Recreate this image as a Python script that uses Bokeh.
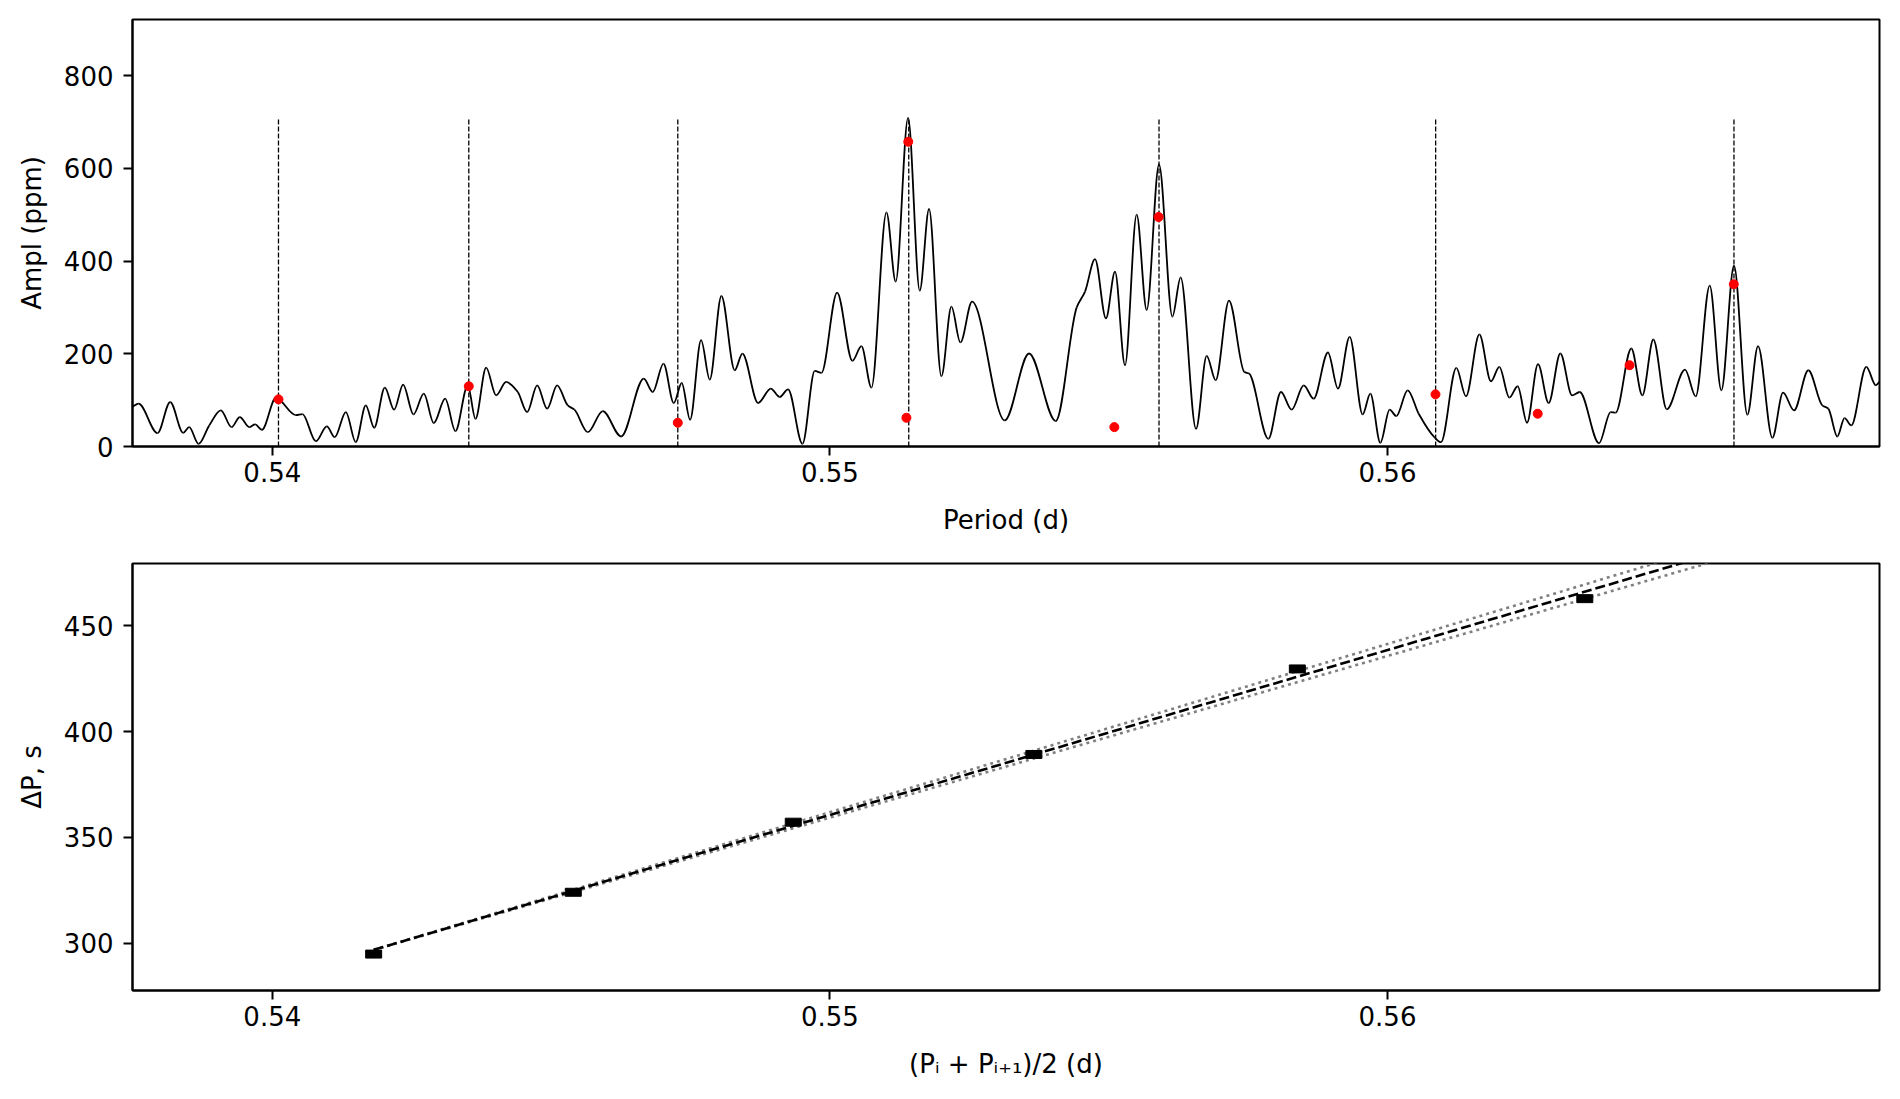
import numpy as np
from bokeh.plotting import figure
from bokeh.layouts import column
from bokeh.models import Range1d, FixedTicker
from bokeh.embed import file_html
from bokeh.resources import INLINE

# ---------------- data: amplitude spectrum (top panel) ----------------
period = [0.537493, 0.537601, 0.537942, 0.538169, 0.538402, 0.538510, 0.538677, 0.538869, 0.539077, 0.539269,
          0.539418, 0.539586, 0.539693, 0.539813, 0.540064, 0.540422, 0.540541, 0.540781, 0.540978, 0.541121,
          0.541319, 0.541497, 0.541677, 0.541827, 0.542018, 0.542185, 0.542346, 0.542532, 0.542717,
          0.542896, 0.543100, 0.543284, 0.543506, 0.543644, 0.543835, 0.544014, 0.544194, 0.544402, 0.544570,
          0.544750, 0.544929, 0.545108, 0.545299, 0.545419, 0.545658, 0.545926, 0.546256, 0.546662, 0.546823,
          0.547015, 0.547200, 0.547343, 0.547493, 0.547690, 0.547845,
          0.548054, 0.548293, 0.548431, 0.548712, 0.548940, 0.549100, 0.549250, 0.549508, 0.549728, 0.549848,
          0.550129, 0.550404, 0.550565, 0.550745, 0.551014, 0.551180, 0.551402, 0.551611, 0.551778, 0.551999,
          0.552179, 0.552340, 0.552549, 0.553135,
          0.553571, 0.554050, 0.554426, 0.554575, 0.554754, 0.554951, 0.555113, 0.555292, 0.555501, 0.555681,
          0.555902, 0.556142, 0.556290, 0.556566, 0.556757, 0.556918, 0.557157, 0.557432, 0.557517, 0.557863,
          0.558089, 0.558281,
          0.558497, 0.558675, 0.558932, 0.559112, 0.559321, 0.559554, 0.559692, 0.559871, 0.560038, 0.560158,
          0.560361, 0.560559, 0.560840, 0.560959, 0.561234, 0.561407, 0.561647, 0.561855, 0.562005, 0.562185,
          0.562334, 0.562502, 0.562699, 0.562890, 0.563099, 0.563309, 0.563447,
          0.563792, 0.564002, 0.564091, 0.564372, 0.564570, 0.564767, 0.565007, 0.565335, 0.565527, 0.565778,
          0.565987, 0.566214, 0.566453, 0.566645, 0.566902, 0.567093, 0.567290, 0.567547, 0.567797, 0.567906,
          0.568066, 0.568196, 0.568317, 0.568586, 0.568758, 0.568830]
ampl = [86, 92.3, 28.9, 95.9, 29.6, 41.8, 5.8, 45.4, 77.9, 41.8,
        63.5, 41.8, 47.6, 36.1, 104.6, 67.8, 70, 11.5, 43.3, 20.2,
        74.3, 9.4, 88.7, 40.4, 127, 79.4, 133.5, 69.3, 114,
        50.5, 103.2, 33.2, 132, 59.9, 170.2, 110.4, 139.2, 117.6, 74.3,
        132, 81.5, 132, 88.7, 79.4, 31, 76.5, 21.6, 146.4, 117.6,
        178.9, 93.8, 137, 57.7, 229.4, 144.3,
        324.6, 164.5, 200.5, 93.8, 124.8, 106.8, 123.4, 5.8, 163, 158.7,
        331.9, 184.7, 216.4, 127, 505, 355.7, 709, 336.2, 512.3, 151.5,
        301.6, 224.4, 312.4, 56.3,
        200.6, 54.8, 300, 334, 404, 276.3, 377.3, 175.3, 500, 294.4,
        608.2, 280, 365, 38.2, 195.5, 142.9, 314.6, 160.9, 157.3, 16.6,
        117.6, 79.4,
        132, 103.2, 202.7, 124.8, 236.6, 69.3, 114, 7.9, 79.4, 65.7,
        121.2, 70.7, 20.2, 9.4, 169.5, 108.2, 241.7, 140.7, 171.7, 105.3,
        129.9, 51.2, 177.5, 93.8, 200.6, 110.4, 117.6,
        7.2, 74.3, 73, 211.4, 110.4, 230.8, 80.1, 165.9, 108.2, 347,
        121.2, 390.3, 68.5, 216.4, 18.8, 116.1, 77.9, 164.5, 88.7, 81.5,
        21.6, 61.3, 45.4, 171.7, 132, 141]

# identified modes (vertical dashed lines)
mode_period = [0.540111, 0.543524, 0.547272, 0.551414, 0.555902, 0.560863, 0.566213]

# red points
dot_period = [0.540111, 0.543524, 0.547272, 0.551372, 0.551405, 0.555101, 0.555895, 0.560860, 0.562693, 0.564341, 0.566210]
dot_ampl = [101.7, 129.9, 51.2, 62, 657.3, 41.8, 495, 112.5, 70.7, 175.3, 350]

# ---------------- data: period spacing (bottom panel) ----------------
mid_period = [0.541818, 0.545398, 0.549343, 0.553658, 0.558383, 0.563538]
delta_p = [294.9, 324.1, 357.2, 389.2, 429.6, 462.8]

fit_x = [0.541818, 0.569000]
fit_y = [296.9, 508.6]
upper_y = [296.9, 512.9]
lower_y = [296.9, 504.4]

x_ticks = [0.54, 0.55, 0.56]
top_y_ticks = [0, 200, 400, 600, 800]
bot_y_ticks = [300, 350, 400, 450]

FONT = "DejaVu Sans"


def style(p, ylabel_standoff=14):
    p.outline_line_color = "black"
    p.outline_line_width = 2
    p.xgrid.visible = False
    p.ygrid.visible = False
    p.background_fill_color = "white"
    p.border_fill_color = "white"
    for ax in (p.xaxis[0], p.yaxis[0]):
        ax.axis_line_width = 2
        ax.axis_line_color = "black"
        ax.major_tick_line_width = 2
        ax.major_tick_line_color = "black"
        ax.major_tick_out = 9
        ax.major_tick_in = 0
        ax.minor_tick_line_color = None
        ax.major_label_text_font = FONT
        ax.major_label_text_font_size = "26px"
        ax.major_label_text_color = "black"
        ax.axis_label_text_font = FONT
        ax.axis_label_text_font_size = "26px"
        ax.axis_label_text_font_style = "normal"
        ax.axis_label_text_color = "black"
    p.xaxis[0].major_label_standoff = 6
    p.yaxis[0].major_label_standoff = 10
    p.xaxis[0].axis_label_standoff = 20
    p.yaxis[0].axis_label_standoff = ylabel_standoff


# ---------------- top panel ----------------
p1 = figure(frame_width=1747, frame_height=427,
            x_range=Range1d(0.537493, 0.568823), y_range=Range1d(0, 921),
            output_backend="svg", toolbar_location=None,
            min_border_left=132, min_border_right=10, min_border_top=19, min_border_bottom=100)
style(p1)
p1.xaxis.ticker = FixedTicker(ticks=x_ticks)
p1.yaxis.ticker = FixedTicker(ticks=top_y_ticks)
p1.xaxis.axis_label = "Period (d)"
p1.yaxis.axis_label = "Ampl (ppm)"

# smooth curve through the read points (monotone cubic -> Bezier segments)
xs = np.asarray(period, dtype=float)
ys = np.asarray(ampl, dtype=float)
h = np.diff(xs)
d = np.diff(ys) / h
m = np.zeros_like(ys)
for k in range(1, len(ys) - 1):
    if d[k - 1] * d[k] > 0:
        w1 = 2 * h[k] + h[k - 1]
        w2 = h[k] + 2 * h[k - 1]
        m[k] = (w1 + w2) / (w1 / d[k - 1] + w2 / d[k])
m[0] = d[0]
m[-1] = d[-1]
p1.bezier(x0=xs[:-1], y0=ys[:-1], x1=xs[1:], y1=ys[1:],
          cx0=xs[:-1] + h / 3, cy0=ys[:-1] + m[:-1] * h / 3,
          cx1=xs[1:] - h / 3, cy1=ys[1:] - m[1:] * h / 3,
          line_color="black", line_width=1.8)

vtop = max(ampl)
p1.segment(x0=mode_period, y0=[0] * len(mode_period), x1=mode_period, y1=[vtop] * len(mode_period),
           line_color="black", line_width=1.3, line_dash="5 2")
p1.scatter(dot_period, dot_ampl, size=9, fill_color="#ff0000", line_color="#ff0000")

# ---------------- bottom panel ----------------
p2 = figure(frame_width=1747, frame_height=427,
            x_range=Range1d(0.537493, 0.568823), y_range=Range1d(277.7, 479.4),
            output_backend="svg", toolbar_location=None,
            min_border_left=132, min_border_right=10, min_border_top=17, min_border_bottom=95)
style(p2)
p2.xaxis.ticker = FixedTicker(ticks=x_ticks)
p2.yaxis.ticker = FixedTicker(ticks=bot_y_ticks)
p2.xaxis.axis_label = "(P\u1d62 + P\u1d62\u208a\u2081)/2 (d)"
p2.yaxis.axis_label = "\u0394P, s"

p2.line(fit_x, upper_y, line_color="#808080", line_width=2.6, line_dash="3 4")
p2.line(fit_x, lower_y, line_color="#808080", line_width=2.6, line_dash="3 4")
p2.line(fit_x, fit_y, line_color="black", line_width=2.6, line_dash="10 4")
p2.rect(x=mid_period, y=delta_p, width=16, height=8, width_units="screen", height_units="screen",
        fill_color="black", line_color="black")

layout = column(p1, p2)
open("out.html", "w").write(file_html(layout, INLINE))
